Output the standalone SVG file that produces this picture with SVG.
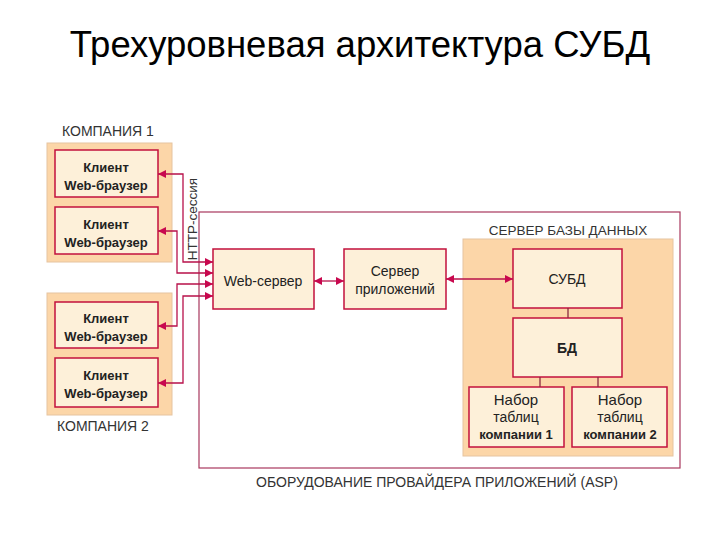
<svg xmlns="http://www.w3.org/2000/svg" width="720" height="540" viewBox="0 0 720 540">
<style>
.title{font-family:"Liberation Sans",Arial,sans-serif;font-size:36.5px;fill:#000}
.cap{font-family:"Liberation Sans",Arial,sans-serif;font-size:14px;fill:#333}
.lbl{font-family:"Liberation Sans",Arial,sans-serif;font-size:13px;font-weight:bold;fill:#222;text-anchor:middle}
.lbl2{font-family:"Liberation Sans",Arial,sans-serif;font-size:14px;fill:#222;text-anchor:middle}
.group{fill:#fcd6a8;stroke:#e6c4a0;stroke-width:1}
.box{fill:#fdf0d9;stroke:#c2103c;stroke-width:1.5}
.con{fill:none;stroke:#b8104a;stroke-width:1.3}
.asp{fill:#fff;stroke:#a8385e;stroke-width:1.2}
</style>
<defs>
<marker id="ah" viewBox="0 0 10 10" refX="10" refY="5" markerWidth="10" markerHeight="8" markerUnits="userSpaceOnUse" orient="auto-start-reverse">
<path d="M0,0 L10,5 L0,10 z" fill="#c8084e"/>
</marker>
</defs>
<text class="title" x="360" y="57" text-anchor="middle">Трехуровневая архитектура СУБД</text>

<g id="asp">
<rect class="asp" x="199" y="212" width="481" height="256"/>
<text class="cap" x="437" y="487" text-anchor="middle">ОБОРУДОВАНИЕ ПРОВАЙДЕРА ПРИЛОЖЕНИЙ (ASP)</text>
</g>

<g id="company1">
<text class="cap" x="62" y="136">КОМПАНИЯ 1</text>
<rect class="group" x="47" y="143" width="125" height="119"/>
</g>
<g id="client1">
<rect class="box" x="55" y="150" width="103" height="47"/>
<text class="lbl" x="106" y="172">Клиент</text>
<text class="lbl" x="106" y="190">Web-браузер</text>
</g>
<g id="client2">
<rect class="box" x="55" y="207" width="103" height="47"/>
<text class="lbl" x="106" y="229">Клиент</text>
<text class="lbl" x="106" y="247">Web-браузер</text>
</g>

<g id="company2">
<rect class="group" x="47" y="293" width="125" height="122"/>
<text class="cap" x="57" y="431">КОМПАНИЯ 2</text>
</g>
<g id="client3">
<rect class="box" x="55" y="302" width="103" height="46"/>
<text class="lbl" x="106" y="323">Клиент</text>
<text class="lbl" x="106" y="341">Web-браузер</text>
</g>
<g id="client4">
<rect class="box" x="55" y="358" width="103" height="49"/>
<text class="lbl" x="106" y="380">Клиент</text>
<text class="lbl" x="106" y="398">Web-браузер</text>
</g>

<g id="http-label">
<text class="cap" transform="translate(197,219) rotate(-90)" text-anchor="middle" style="font-size:13.5px">HTTP-сессия</text>
</g>

<g id="webserver">
<rect class="box" x="213" y="249" width="101" height="60"/>
<text class="lbl2" x="263" y="286">Web-сервер</text>
</g>
<g id="appserver">
<rect class="box" x="344" y="249" width="102" height="60"/>
<text class="lbl2" x="395" y="276">Сервер</text>
<text class="lbl2" x="395" y="294">приложений</text>
</g>

<g id="dbserver">
<rect class="group" x="463" y="239" width="210" height="217"/>
<text class="cap" x="568" y="235" text-anchor="middle" style="font-size:13.5px">СЕРВЕР БАЗЫ ДАННЫХ</text>
</g>
<g id="dbms">
<rect class="box" x="513" y="249" width="109" height="59"/>
<text class="lbl2" x="567" y="284">СУБД</text>
</g>
<g id="db">
<rect class="box" x="513" y="318" width="109" height="59"/>
<text class="lbl2" x="567" y="353" style="font-weight:bold">БД</text>
</g>
<g id="tables1">
<rect class="box" x="469" y="387" width="95" height="60"/>
<text class="lbl2" x="516" y="405" style="font-size:15px">Набор</text>
<text class="lbl2" x="516" y="422">таблиц</text>
<text class="lbl" x="516" y="439">компании 1</text>
</g>
<g id="tables2">
<rect class="box" x="572" y="387" width="95" height="60"/>
<text class="lbl2" x="620" y="405" style="font-size:15px">Набор</text>
<text class="lbl2" x="620" y="422">таблиц</text>
<text class="lbl" x="620" y="439">компании 2</text>
</g>

<g id="connectors">
<path class="con" d="M213,262 H183 V174 H158" marker-start="url(#ah)" marker-end="url(#ah)"/>
<path class="con" d="M213,273 H177 V231 H158" marker-start="url(#ah)" marker-end="url(#ah)"/>
<path class="con" d="M213,284 H177 V326 H158" marker-start="url(#ah)" marker-end="url(#ah)"/>
<path class="con" d="M213,296 H183 V383 H158" marker-start="url(#ah)" marker-end="url(#ah)"/>
<path class="con" d="M314,281 H344" marker-start="url(#ah)" marker-end="url(#ah)"/>
<path class="con" d="M446,279 H513" marker-start="url(#ah)" marker-end="url(#ah)"/>
<path class="con" style="stroke:#8a2a40" d="M568,308 V318 M540,377 V387 M598,377 V387"/>
</g>
</svg>
